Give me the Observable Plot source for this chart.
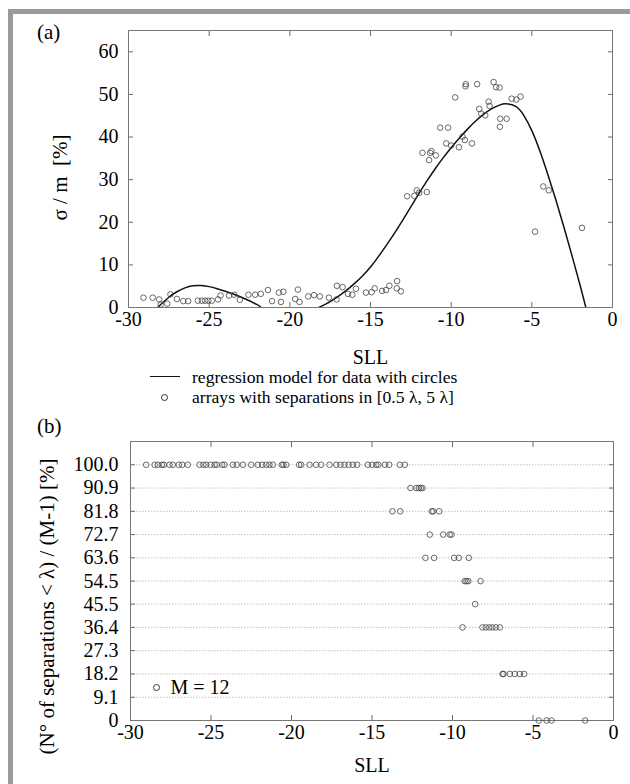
<!DOCTYPE html>
<html><head><meta charset="utf-8">
<script src="https://cdn.jsdelivr.net/npm/d3@7"></script>
<script src="https://cdn.jsdelivr.net/npm/@observablehq/plot@0.6"></script>
<style>
body{margin:0;background:#fff;}
#root{position:relative;width:630px;height:784px;overflow:hidden;font-family:"Liberation Serif","Times New Roman",serif;color:#000;background:#fff;}
.abs{position:absolute;white-space:pre;font-size:17.6px;line-height:20px;}
.lab{position:absolute;white-space:pre;font-size:21px;line-height:24px;}
.bar{position:absolute;background:#9b9b9b;}
svg.plt{position:absolute;left:0;}
svg.plt text{font-family:"Liberation Serif","Times New Roman",serif;}
</style></head><body><div id="root"></div>
<script>
// ---------- Panel (a) data ----------
const sllA = [
 -29.07,-28.5,-28.1,-28.0,-27.6,-27.4,-27.0,-26.6,-26.3,-25.7,-25.45,-25.25,-25.05,-24.84,-24.45,-24.3,
 -23.77,-23.45,-23.1,-22.57,-22.15,-21.8,-21.36,-21.1,-20.68,-20.4,-20.55,-19.67,-19.5,-19.4,-18.86,-18.5,
 -18.14,-17.58,-17.1,-17.08,-16.73,-16.4,-16.13,-15.9,-15.28,-14.93,-14.74,-14.28,-14.04,-13.83,-13.35,-13.37,
 -13.12,-12.73,-12.28,-12.13,-11.99,-11.51,-11.78,-11.37,-11.3,-11.22,-10.95,-10.68,-10.19,-10.31,-10.0,-9.52,
 -9.3,-9.15,-9.75,-9.09,-9.11,-8.39,-8.71,-8.26,-8.14,-7.89,-7.68,-7.62,-7.37,-7.22,-7.0,-6.96,
 -6.56,-6.98,-6.25,-5.96,-5.7,-4.29,-3.95,-4.8,-1.89
];
const sigmaA = [
 2.3,2.3,1.9,0.7,0.9,3.1,2.0,1.5,1.5,1.6,1.6,1.6,1.6,1.6,1.9,2.8,
 2.8,3.0,1.8,3.0,3.0,3.2,4.1,1.5,3.5,3.7,1.3,2.0,4.2,1.3,2.6,2.9,
 2.6,2.3,1.9,5.1,4.8,3.2,3.0,4.4,3.5,3.6,4.5,3.9,4.1,5.1,6.2,4.5,
 3.8,26.1,26.2,27.5,26.9,27.1,36.3,34.6,36.3,36.7,35.7,42.2,42.2,38.5,38.0,37.6,
 40.1,39.3,49.3,52.4,51.9,52.4,38.5,46.6,45.5,45.1,48.3,47.3,52.9,51.7,51.6,44.3,
 44.3,42.4,49.0,48.8,49.5,28.4,27.5,17.8,18.7
];
// regression curve (two visible pieces above zero)
const curveLeftX  = [-28.2,-27.5,-27.0,-26.5,-26.0,-25.5,-25.0,-24.5,-24.0,-23.0,-22.0,-21.8];
const curveLeftY  = [0,2.4,3.7,4.6,5.1,5.15,4.9,4.4,3.8,2.4,0.6,0];
const curveRightX = [-18.2,-17.5,-17.0,-16.5,-16.0,-15.5,-15.0,-14.5,-14.0,-13.5,-13.0,-12.5,-12.0,-11.5,-11.0,-10.5,-10.0,-9.5,-9.0,-8.5,-8.0,-7.5,-7.0,-6.6,-6.0,-5.5,-5.0,-4.5,-4.0,-3.5,-3.0,-2.5,-2.0,-1.65];
const curveRightY = [0,1.4,2.6,4.0,5.6,7.4,9.5,12.0,14.7,17.5,20.5,23.6,26.7,29.7,32.5,35.1,37.5,39.7,41.8,43.7,45.3,46.6,47.5,47.8,47.2,45.1,41.5,36.7,31.1,25.1,18.7,12.0,5.1,0];

// ---------- Panel (b) data ----------
const rowLabels = ["0","9.1","18.2","27.3","36.4","45.5","54.5","63.6","72.7","81.8","90.9","100.0"];
const row1000 = [-29.03,-28.5,-28.3,-28.05,-27.93,-27.58,-27.37,-27.0,-26.79,-26.44,-25.71,-25.47,-25.3,-25.03,-24.78,-24.64,
 -24.3,-24.16,-23.64,-23.4,-23.02,-22.5,-22.09,-21.82,-21.57,-21.37,-21.16,-20.6,-20.5,-20.33,-19.52,-19.4,-18.88,-18.47,
 -18.16,-17.64,-17.22,-16.96,-16.71,-16.46,-16.19,-15.92,-15.26,-14.99,-14.74,-14.6,-14.2,-13.93,-13.27,-12.96];
const row909 = [-12.61,-12.24,-12.09,-11.97,-11.86];
const row818 = [-13.73,-13.25,-11.29,-11.2,-10.83];
const row727 = [-11.41,-10.58,-10.17,-10.06];
const row636 = [-11.68,-11.14,-9.9,-9.61,-8.99];
const row545 = [-9.24,-9.13,-9.02,-8.26];
const row455 = [-8.59];
const row364 = [-9.38,-8.14,-7.93,-7.72,-7.52,-7.31,-7.06];
const row273 = [];
const row182 = [-6.89,-6.83,-6.44,-6.13,-5.82,-5.55];
const row91  = [];
const row0   = [-4.64,-4.16,-3.85,-1.76];

const xTickVals = [-30,-25,-20,-15,-10,-5,0];
const yTickValsA = [0,10,20,30,40,50,60];

// ---------- build tables ----------
const pointsA = sllA.map((x,i)=>({x, y: sigmaA[i]}));
const curve = [
  ...curveLeftX.map((x,i)=>({x, y: curveLeftY[i], seg: "L"})),
  ...curveRightX.map((x,i)=>({x, y: curveRightY[i], seg: "R"}))
];
const rows = [row0,row91,row182,row273,row364,row455,row545,row636,row727,row818,row909,row1000];
const pointsB = rows.flatMap((r,i)=> r.map(x=>({x, y: +rowLabels[i]})));
const yTickValsB = rowLabels.map(Number);

const FONT = '"Liberation Serif","Times New Roman",serif';
const fmt = d => String(d);
const TICK = "#6a6a6a";
const TF = 20;   // tick font size
const LF = 21;   // axis title font size

const plotA = Plot.plot({
  width: 630, height: 372,
  marginLeft: 128, marginRight: 18, marginTop: 30, marginBottom: 65,
  x: {domain: [-30, 0]},
  y: {domain: [0, 65]},
  style: {fontFamily: FONT, fontSize: "20px", color: "#000", background: "transparent", overflow: "visible"},
  marks: [
    Plot.axisX(xTickVals, {anchor: "bottom", tickSize: 0, tickPadding: 4, tickFormat: fmt, label: null, fontSize: TF, fontFamily: FONT}),
    Plot.axisX(xTickVals, {anchor: "bottom", tickSize: -5, tickFormat: () => "", label: null, stroke: TICK}),
    Plot.axisX(xTickVals, {anchor: "top", tickSize: -5, tickFormat: () => "", label: null, stroke: TICK}),
    Plot.axisY(yTickValsA, {anchor: "left", tickSize: 0, tickPadding: 10, tickFormat: fmt, label: null, fontSize: TF, fontFamily: FONT}),
    Plot.axisY(yTickValsA, {anchor: "left", tickSize: -5, tickFormat: () => "", label: null, stroke: TICK}),
    Plot.axisY(yTickValsA, {anchor: "right", tickSize: -5, tickFormat: () => "", label: null, stroke: TICK}),
    Plot.frame({stroke: "#777"}),
    Plot.line(curve, {x: "x", y: "y", z: "seg", curve: "natural", stroke: "#111", strokeWidth: 1.5, clip: true}),
    Plot.dot(pointsA, {x: "x", y: "y", r: 2.8, stroke: "#444", fill: "none", strokeWidth: 0.8}),
    Plot.text(["SLL"], {frameAnchor: "bottom", lineAnchor: "middle", dy: 50, fontSize: TF, fontFamily: FONT}),
    Plot.text(["σ / m \u00a0[%]"], {frameAnchor: "left", textAnchor: "middle", lineAnchor: "middle", rotate: -90, dx: -68, dy: 8.5, fontSize: LF, fontFamily: FONT})
  ]
});

const plotB = Plot.plot({
  width: 630, height: 374,
  marginLeft: 130, marginRight: 17, marginTop: 31, marginBottom: 64,
  x: {domain: [-30, 0]},
  y: {domain: [0, 109.1]},
  style: {fontFamily: FONT, fontSize: "20px", color: "#000", background: "transparent", overflow: "visible"},
  marks: [
    Plot.gridY(yTickValsB, {stroke: "#b5b5b5", strokeOpacity: 1, strokeDasharray: "1.5,1.5", strokeWidth: 0.8}),
    Plot.axisX(xTickVals, {anchor: "bottom", tickSize: 0, tickPadding: 4, tickFormat: fmt, label: null, fontSize: TF, fontFamily: FONT}),
    Plot.axisX(xTickVals, {anchor: "bottom", tickSize: -5, tickFormat: () => "", label: null, stroke: TICK}),
    Plot.axisX(xTickVals, {anchor: "top", tickSize: -5, tickFormat: () => "", label: null, stroke: TICK}),
    Plot.axisY(yTickValsB, {anchor: "left", tickSize: 0, tickPadding: 12, tickFormat: (d,i) => rowLabels[i], label: null, fontSize: TF, fontFamily: FONT}),
    Plot.axisY(yTickValsB, {anchor: "left", tickSize: -5, tickFormat: () => "", label: null, stroke: TICK}),
    Plot.axisY(yTickValsB, {anchor: "right", tickSize: -5, tickFormat: () => "", label: null, stroke: TICK}),
    Plot.frame({stroke: "#777"}),
    Plot.dot(pointsB, {x: "x", y: "y", r: 2.8, stroke: "#444", fill: "none", strokeWidth: 0.8}),
    Plot.dot([0], {frameAnchor: "bottom-left", dx: 26, dy: -33, r: 3, stroke: "#222", fill: "none", strokeWidth: 0.9}),
    Plot.text(["M = 12"], {frameAnchor: "bottom-left", dx: 40, dy: -33, textAnchor: "start", lineAnchor: "middle", fontSize: TF, fontFamily: FONT}),
    Plot.text(["SLL"], {frameAnchor: "bottom", lineAnchor: "middle", dy: 45, fontSize: TF, fontFamily: FONT}),
    Plot.text(["(N° of separations < λ) / (M-1) [%]"], {frameAnchor: "left", textAnchor: "middle", lineAnchor: "middle", rotate: -90, dx: -83, dy: 25.5, fontSize: LF, fontFamily: FONT})
  ]
});

const root = document.getElementById("root");
function addDiv(cls, css, text){ const d=document.createElement("div"); d.className=cls; d.style.cssText=css; if(text!=null) d.textContent=text; root.appendChild(d); return d; }
addDiv("bar","left:8px;top:9px;width:5px;height:775px;");
addDiv("bar","left:8px;top:9px;width:622px;height:5px;");
plotA.classList.add("plt"); plotA.style.top = "0px";
plotB.classList.add("plt"); plotB.style.top = "410px";
root.appendChild(plotA);
root.appendChild(plotB);
addDiv("lab","left:37px;top:20px;","(a)");
addDiv("lab","left:37px;top:414px;","(b)");
// legend of panel (a)
addDiv("", "position:absolute;left:150px;top:376px;width:30px;height:0;border-top:1.5px solid #111;");
addDiv("", "position:absolute;left:161px;top:394px;width:5px;height:5px;border:0.9px solid #333;border-radius:50%;");
addDiv("abs","left:192px;top:367px;","regression model for data with circles");
addDiv("abs","left:192px;top:387px;","arrays with separations in [0.5 λ, 5 λ]");
</script>
</body></html>
